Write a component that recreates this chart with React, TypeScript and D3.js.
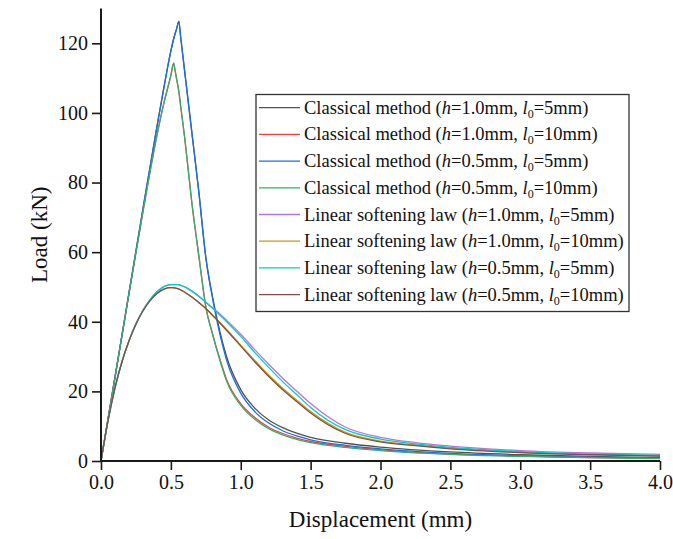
import React, { useEffect, useRef } from "react";
import * as d3 from "d3";

// displacement grids (mm)
const classicalDisp = [0, 0.1, 0.2, 0.3, 0.4, 0.45, 0.5, 0.52, 0.53, 0.54, 0.557, 0.57, 0.6, 0.65, 0.7, 0.75, 0.8, 0.85, 0.9, 1.0, 1.1, 1.2, 1.3, 1.4, 1.5, 1.75, 2.0, 2.5, 3.0, 3.5, 4.0];
const softeningDisp = [0, 0.05, 0.1, 0.15, 0.2, 0.25, 0.3, 0.35, 0.4, 0.45, 0.5, 0.55, 0.6, 0.65, 0.7, 0.75, 0.8, 0.9, 1.0, 1.1, 1.2, 1.3, 1.4, 1.5, 1.75, 2.0, 2.25, 2.5, 3.0, 3.5, 4.0];

// loads (kN)
const classicalH10L5 = [0, 24, 48.2, 72.4, 96, 107.3, 117.8, 121.3, 122.7, 124, 126.3, 121.8, 111.5, 94.4, 77.3, 58.5, 46.8, 37.3, 29.8, 20.5, 15.2, 11.8, 9.6, 8.0, 6.8, 5.1, 4.0, 2.6, 1.8, 1.3, 1.0];
const classicalH10L10 = [0, 24, 48, 71.6, 93.5, 102.8, 110.8, 114.3, 112.2, 110, 106.2, 102, 92.5, 74.2, 59, 44.3, 36.2, 29.4, 23.3, 16.5, 12.5, 9.7, 7.9, 6.6, 5.6, 4.2, 3.2, 2.0, 1.4, 1.0, 0.75];
const classicalH05L5 = [0, 24, 48.2, 72.4, 96, 107.3, 117.8, 121.3, 122.7, 124, 126.3, 121.8, 111.5, 94.4, 77.3, 58.5, 46.3, 36.5, 28.8, 19.5, 14.2, 10.9, 8.7, 7.2, 6.1, 4.5, 3.5, 2.2, 1.5, 1.1, 0.85];
const classicalH05L10 = [0, 24, 48, 71.6, 93.5, 102.8, 110.8, 114.3, 112.2, 110, 106.2, 102, 92.5, 74.2, 59, 44.3, 36.2, 29, 22.8, 16, 12, 9.3, 7.5, 6.2, 5.3, 3.9, 3.0, 1.9, 1.3, 0.95, 0.7];
const softeningH10L5 = [0, 11.5, 21, 28.5, 34.5, 39.4, 43.3, 46.3, 48.6, 50.1, 50.7, 50.7, 50.0, 48.8, 47.3, 45.6, 44.0, 40.4, 36.4, 32.0, 27.8, 23.8, 20.1, 16.5, 9.7, 6.8, 5.3, 4.3, 3.0, 2.3, 1.9];
const softeningH10L10 = [0, 11.5, 21, 28.5, 34.5, 39.3, 43.1, 46, 48.1, 49.4, 49.8, 49.5, 48.5, 47.1, 45.5, 43.8, 41.8, 37.7, 33.3, 28.9, 24.7, 20.9, 17.5, 14.2, 8.2, 5.7, 4.6, 3.7, 2.5, 1.9, 1.5];
const softeningH05L5 = [0, 11.5, 21, 28.5, 34.5, 39.4, 43.3, 46.3, 48.6, 50.1, 50.7, 50.7, 50.0, 48.8, 47.3, 45.6, 43.8, 40.0, 35.8, 31.2, 26.9, 22.8, 19.1, 15.4, 9.0, 6.3, 4.9, 3.9, 2.7, 2.0, 1.6];
const softeningH05L10 = [0, 11.5, 21, 28.5, 34.5, 39.3, 43.1, 46, 48.1, 49.4, 49.8, 49.5, 48.5, 47.1, 45.5, 43.8, 41.8, 37.5, 33, 28.5, 24.3, 20.5, 17.1, 13.8, 7.9, 5.5, 4.4, 3.5, 2.4, 1.8, 1.4];

const methods = ["Classical method", "Classical method", "Classical method", "Classical method",
  "Linear softening law", "Linear softening law", "Linear softening law", "Linear softening law"];
const meshSizes = ["1.0", "1.0", "0.5", "0.5", "1.0", "1.0", "0.5", "0.5"];
const lengths = ["5", "10", "5", "10", "5", "10", "5", "10"];
const colors = ["#515151", "#F14040", "#1A6FDF", "#37AD6B", "#B177DE", "#CC9900", "#00CBCC", "#7D4E4E"];

const xTicks = [0, 0.5, 1, 1.5, 2, 2.5, 3, 3.5, 4];
const yTicks = [0, 20, 40, 60, 80, 100, 120];

export default function App() {
  const svgRef = useRef(null);

  useEffect(() => {
    const width = 673;
    const height = 539;
    const font = "'Liberation Serif', 'Times New Roman', serif";

    const svg = d3.select(svgRef.current);
    svg.selectAll("*").remove();
    svg.attr("width", width).attr("height", height);

    const x = d3.scaleLinear().domain([0, 4]).range([101, 660]);
    const y = d3.scaleLinear().domain([0, 130]).range([461, 8.5]);

    const series = [
      { disp: classicalDisp, load: classicalH10L5 },
      { disp: classicalDisp, load: classicalH10L10 },
      { disp: classicalDisp, load: classicalH05L5 },
      { disp: classicalDisp, load: classicalH05L10 },
      { disp: softeningDisp, load: softeningH10L5 },
      { disp: softeningDisp, load: softeningH10L10 },
      { disp: softeningDisp, load: softeningH05L5 },
      { disp: softeningDisp, load: softeningH05L10 },
    ];

    const line = d3.line<[number, number]>()
      .x(d => x(d[0]))
      .y(d => y(d[1]))
      .curve(d3.curveMonotoneX);

    series.forEach((s, i) => {
      const pts = s.disp.map((d, k) => [d, s.load[k]] as [number, number]);
      svg.append("path")
        .attr("d", line(pts))
        .attr("fill", "none")
        .attr("stroke", colors[i])
        .attr("stroke-width", 1.3);
    });

    // x axis
    const xAxis = svg.append("g").attr("transform", `translate(0,${y(0)})`);
    xAxis.call(d3.axisBottom(x).tickValues(d3.range(0, 4.01, 0.25)).tickSize(5).tickFormat(() => ""));
    xAxis.call(d3.axisBottom(x).tickValues(xTicks).tickSize(9).tickFormat(d3.format(".1f")).tickPadding(5));
    xAxis.selectAll(".domain").attr("stroke-width", 2).attr("stroke", "#1a1a1a").attr("d", `M${x(0)},0H${x(4)}`);
    xAxis.selectAll("line").attr("stroke-width", 1.6).attr("stroke", "#1a1a1a");
    xAxis.selectAll("text").attr("font-family", font).attr("font-size", 20).attr("fill", "#111");

    // y axis
    const yAxis = svg.append("g").attr("transform", `translate(${x(0)},0)`);
    yAxis.call(d3.axisLeft(y).tickValues(d3.range(0, 131, 10)).tickSize(5).tickFormat(() => ""));
    yAxis.call(d3.axisLeft(y).tickValues(yTicks).tickSize(9).tickFormat(d3.format("d")).tickPadding(4));
    yAxis.selectAll(".domain").attr("stroke-width", 2).attr("stroke", "#1a1a1a").attr("d", `M0,${y(0)}V${y(130)}`);
    yAxis.selectAll("line").attr("stroke-width", 1.6).attr("stroke", "#1a1a1a");
    yAxis.selectAll("text").attr("font-family", font).attr("font-size", 20).attr("fill", "#111");

    // axis titles
    svg.append("text")
      .attr("x", (x(0) + x(4)) / 2)
      .attr("y", 527)
      .attr("text-anchor", "middle")
      .attr("font-family", font)
      .attr("font-size", 23)
      .attr("fill", "#111")
      .text("Displacement (mm)");

    svg.append("text")
      .attr("transform", `translate(47,${(y(0) + y(130)) / 2}) rotate(-90)`)
      .attr("text-anchor", "middle")
      .attr("font-family", font)
      .attr("font-size", 23)
      .attr("fill", "#111")
      .text("Load (kN)");

    // legend
    const legend = svg.append("g");
    legend.append("rect")
      .attr("x", 256).attr("y", 94.5)
      .attr("width", 373).attr("height", 217)
      .attr("fill", "white")
      .attr("stroke", "#333")
      .attr("stroke-width", 1.3);

    methods.forEach((m, i) => {
      const ly = 107.7 + i * 26.7;
      legend.append("line")
        .attr("x1", 259).attr("x2", 300)
        .attr("y1", ly).attr("y2", ly)
        .attr("stroke", colors[i])
        .attr("stroke-width", 1.3);
      const t = legend.append("text")
        .attr("x", 304).attr("y", ly + 6)
        .attr("font-family", font)
        .attr("font-size", 18.5)
        .attr("fill", "#111");
      t.append("tspan").text(`${m} (`);
      t.append("tspan").attr("font-style", "italic").text("h");
      t.append("tspan").text(`=${meshSizes[i]}mm, `);
      t.append("tspan").attr("font-style", "italic").text("l");
      t.append("tspan").attr("font-size", 12).attr("dy", 4).text("0");
      t.append("tspan").attr("dy", -4).text(`=${lengths[i]}mm)`);
    });
  }, []);

  return (
    <div style={{ position: "absolute", left: 0, top: 0, background: "white" }}>
      <svg ref={svgRef}></svg>
    </div>
  );
}
